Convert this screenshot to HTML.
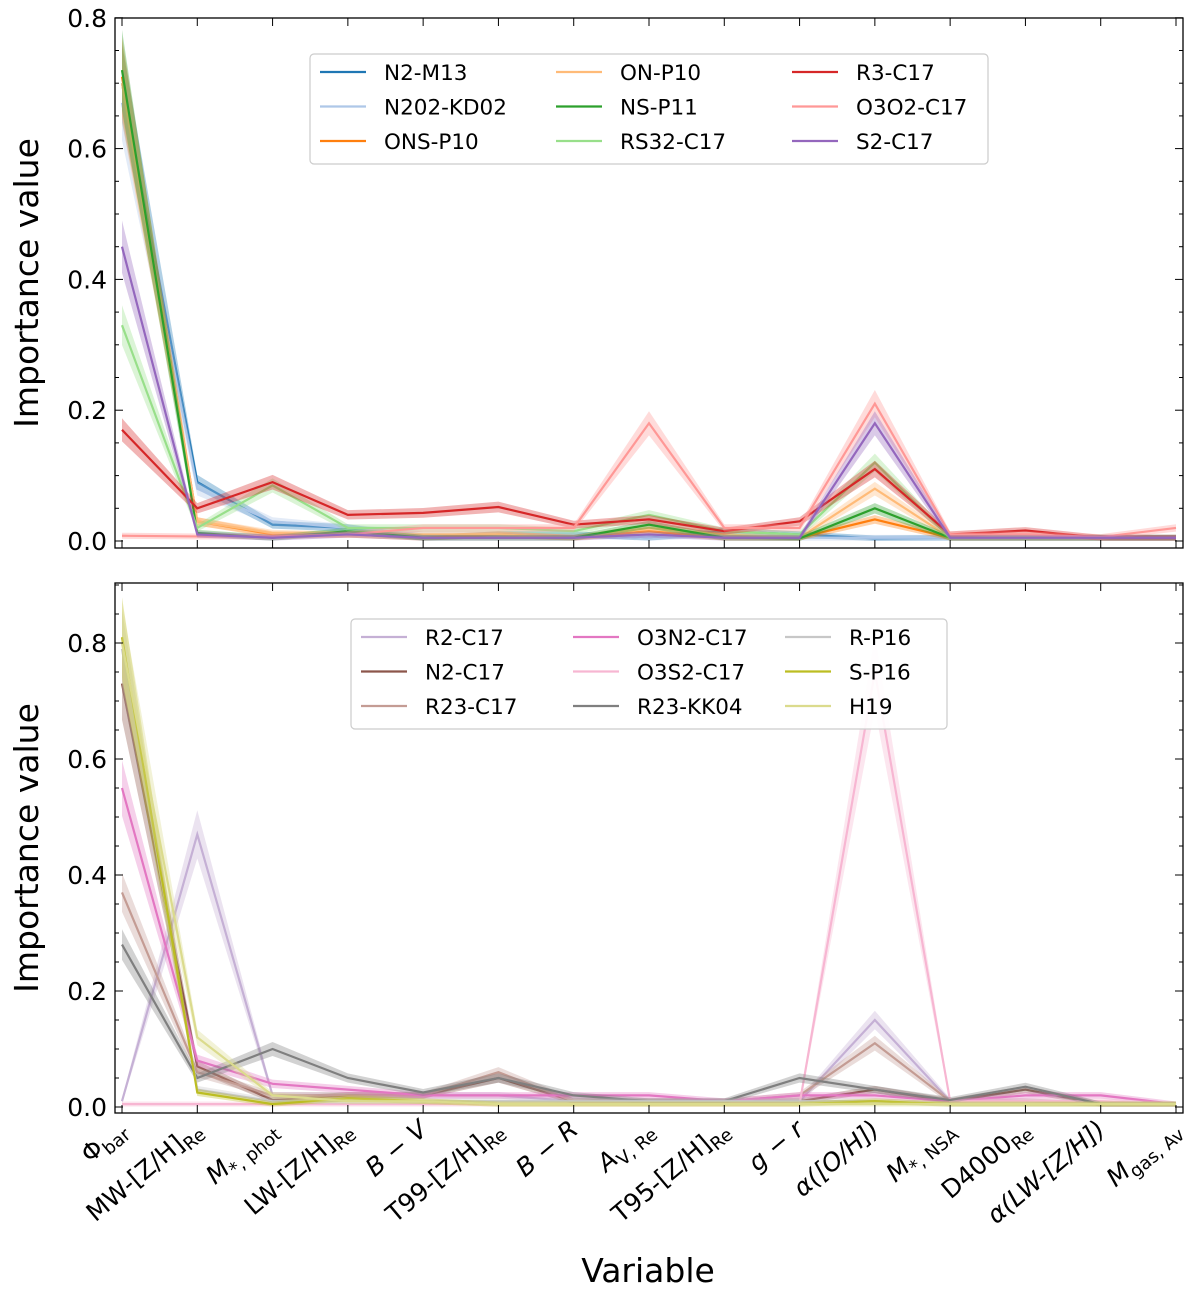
<!DOCTYPE html>
<html><head><meta charset="utf-8"><style>
html,body{margin:0;padding:0;background:#fff;}
svg{display:block;font-family:"DejaVu Sans","Liberation Sans",sans-serif;}
</style></head><body>
<svg id="fig" width="1200" height="1298" viewBox="0 0 1200 1298" xmlns="http://www.w3.org/2000/svg"></svg>
<script>
const variables=["Φbar","MW-[Z/H]Re","M*,phot","LW-[Z/H]Re","B−V","T99-[Z/H]Re","B−R","AV,Re","T95-[Z/H]Re","g−r","α([O/H])","M*,NSA","D4000Re","α(LW-[Z/H])","Mgas,Av"];
const labelsHtml=[["Φ","bar",0],["MW-[Z/H]","Re",0],["M","*, phot",1],["LW-[Z/H]","Re",0],["B − V","",1],["T99-[Z/H]","Re",0],["B − R","",1],["A","V, Re",1],["T95-[Z/H]","Re",0],["g − r","",1],["α([O/H])","",1],["M","*, NSA",1],["D4000","Re",0],["α(LW-[Z/H])","",1],["M","gas, Av",1]];
const topNames=["N2-M13","N202-KD02","ONS-P10","ON-P10","NS-P11","RS32-C17","R3-C17","O3O2-C17","S2-C17"];
const topColors=["#1f77b4","#aec7e8","#ff7f0e","#ffbb78","#2ca02c","#98df8a","#d62728","#ff9896","#9467bd"];
const n2m13=[0.70,0.09,0.025,0.02,0.005,0.01,0.01,0.005,0.015,0.01,0.004,0.005,0.005,0.005,0.005];
const n202kd02=[0.67,0.08,0.03,0.02,0.01,0.01,0.01,0.005,0.01,0.005,0.005,0.005,0.005,0.005,0.005];
const onsp10=[0.71,0.03,0.01,0.01,0.005,0.01,0.005,0.015,0.005,0.005,0.033,0.005,0.005,0.005,0.005];
const onp10=[0.70,0.03,0.012,0.01,0.01,0.01,0.005,0.02,0.01,0.005,0.08,0.005,0.005,0.005,0.005];
const nsp11=[0.72,0.012,0.005,0.015,0.005,0.005,0.005,0.025,0.005,0.004,0.05,0.005,0.005,0.005,0.005];
const rs32c17=[0.33,0.02,0.085,0.02,0.02,0.02,0.015,0.04,0.015,0.01,0.12,0.005,0.005,0.005,0.005];
const r3c17=[0.17,0.05,0.09,0.04,0.043,0.052,0.025,0.033,0.015,0.03,0.11,0.01,0.016,0.005,0.005];
const o3o2c17=[0.008,0.007,0.007,0.01,0.02,0.02,0.02,0.18,0.02,0.02,0.21,0.01,0.01,0.006,0.02];
const s2c17=[0.45,0.01,0.005,0.01,0.005,0.005,0.005,0.01,0.005,0.005,0.18,0.005,0.005,0.005,0.005];
const botNames=["R2-C17","N2-C17","R23-C17","O3N2-C17","O3S2-C17","R23-KK04","R-P16","S-P16","H19"];
const botColors=["#c5b0d5","#8c564b","#c49c94","#e377c2","#f7b6d2","#7f7f7f","#c7c7c7","#bcbd22","#dbdb8d"];
const r2c17=[0.01,0.47,0.02,0.02,0.02,0.02,0.01,0.01,0.01,0.01,0.15,0.01,0.01,0.005,0.005];
const n2c17=[0.73,0.07,0.012,0.02,0.02,0.05,0.01,0.01,0.01,0.01,0.03,0.01,0.03,0.005,0.005];
const r23c17=[0.37,0.06,0.02,0.02,0.02,0.06,0.01,0.01,0.01,0.02,0.11,0.01,0.01,0.005,0.005];
const o3n2c17=[0.55,0.08,0.04,0.03,0.02,0.02,0.02,0.02,0.01,0.02,0.02,0.01,0.02,0.02,0.005];
const o3s2c17=[0.005,0.005,0.005,0.005,0.005,0.005,0.005,0.005,0.005,0.005,0.75,0.01,0.01,0.01,0.005];
const r23kk04=[0.28,0.05,0.10,0.05,0.025,0.05,0.02,0.01,0.01,0.05,0.03,0.012,0.035,0.005,0.005];
const rp16=[0.79,0.03,0.01,0.01,0.01,0.01,0.01,0.01,0.01,0.01,0.01,0.005,0.005,0.005,0.005];
const sp16=[0.81,0.025,0.005,0.015,0.01,0.005,0.005,0.005,0.005,0.005,0.01,0.005,0.005,0.005,0.005];
const h19=[0.80,0.12,0.02,0.01,0.01,0.005,0.005,0.005,0.005,0.005,0.005,0.005,0.005,0.005,0.005];
const topSeries=[n2m13,n202kd02,onsp10,onp10,nsp11,rs32c17,r3c17,o3o2c17,s2c17];
const botSeries=[r2c17,n2c17,r23c17,o3n2c17,o3s2c17,r23kk04,rp16,sp16,h19];
const yTicks=[0,0.2,0.4,0.6,0.8];
const legendOrderTop=[[0,3,6],[1,4,7],[2,5,8]];
const legendOrderBot=[[0,3,6],[1,4,7],[2,5,8]];

const NS="http://www.w3.org/2000/svg";
const svg=document.getElementById('fig');
function mk(tag,attrs,parent){const e=document.createElementNS(NS,tag);for(const k in attrs)e.setAttribute(k,attrs[k]);(parent||svg).appendChild(e);return e;}
const X0=122,X1=1176;
function xScale(i){return X0+(X1-X0)*i/(variables.length-1);}

function panel(p){
  const g=mk('g',{});
  
  
  const yS=v=>p.y0-v*p.k;
  const L=X0-7,R=X1+7;
  p.series.forEach((s,si)=>{
    const col=p.colors[si];
    let up=[],dn=[];
    s.forEach((v,i)=>{const w=v*0.08+0.004;up.push(xScale(i)+','+yS(v+w));dn.unshift(xScale(i)+','+yS(Math.max(0,v-w)));});
    const band=mk('polygon',{points:up.concat(dn).join(' '),fill:col,'fill-opacity':0.35,stroke:'none'},g);
    
    
    const line=mk('polyline',{points:s.map((v,i)=>xScale(i)+','+yS(v)).join(' '),fill:'none',stroke:col,'stroke-width':2.2},g);
    
    
  });
  const fr=mk('rect',{x:L,y:p.top,width:R-L,height:p.bot-p.top,fill:'none',stroke:'#000','stroke-width':1.3},g);
  
  
  for(let v=0;v<=p.max+1e-9;v+=0.05){
    const y=yS(v);const major=Math.abs(v*10-Math.round(v*10))<1e-6&&Math.round(v*10)%2==0;
    const len=major?8:4;
    mk('line',{x1:L,x2:L+len,y1:y,y2:y,stroke:'#000','stroke-width':1},g);
    mk('line',{x1:R,x2:R-len,y1:y,y2:y,stroke:'#000','stroke-width':1},g);
  }
  yTicks.forEach(v=>{
    const t=mk('text',{x:L-8,y:yS(v)+9,'text-anchor':'end','font-size':25},g);
    t.textContent=v.toFixed(1);
    
    
  });
  variables.forEach((_,i)=>{
    const x=xScale(i);
    mk('line',{x1:x,x2:x,y1:p.bot,y2:p.bot-8,stroke:'#000','stroke-width':1},g);
    mk('line',{x1:x,x2:x,y1:p.top,y2:p.top+8,stroke:'#000','stroke-width':1},g);
  });
  const yt=mk('text',{x:0,y:0,'font-size':33,'text-anchor':'middle',transform:`translate(38,${(p.top+p.bot)/2}) rotate(-90)`},g);
  yt.textContent='Importance value';
  
  
  const lg=mk('g',{},g);
  
  
  mk('rect',{x:p.lx,y:p.ly,width:p.lw,height:110,rx:4,fill:'#fff','fill-opacity':0.9,stroke:'#ccc','stroke-width':1.2},lg);
  p.order.forEach((row,ri)=>row.forEach((si,ci)=>{
    const ex=p.lx+10+ci*p.colw,ey=p.ly+18+ri*34.5;
    const e=mk('g',{},lg);
    
    
    mk('line',{x1:ex,x2:ex+46,y1:ey,y2:ey,stroke:p.colors[si],'stroke-width':2.2},e);
    const t=mk('text',{x:ex+64,y:ey+8,'font-size':21.5},e);
    t.textContent=p.names[si];
  }));
}
panel({name:'top-panel',top:18,bot:548,y0:541,k:654,max:0.8,series:topSeries,colors:topColors,names:topNames,ids:['n2-m13','n202-kd02','ons-p10','on-p10','ns-p11','rs32-c17','r3-c17','o3o2-c17','s2-c17'],order:legendOrderTop,lx:310,ly:54,lw:678,colw:236});
panel({name:'bottom-panel',top:583,bot:1113,y0:1107,k:580,max:0.9,series:botSeries,colors:botColors,names:botNames,ids:['r2-c17','n2-c17','r23-c17','o3n2-c17','o3s2-c17','r23-kk04','r-p16','s-p16','h19'],order:legendOrderBot,lx:351,ly:619,lw:596,colw:212});
labelsHtml.forEach((lb,i)=>{
  const t=mk('text',{'font-size':25,'text-anchor':'end',transform:`translate(${xScale(i)+6},${1132}) rotate(-40)`});
  
  
  const a=mk('tspan',{},t);a.textContent=lb[0];
  if(lb[2])a.setAttribute('font-style','italic');
  if(lb[1]){const b=mk('tspan',{'font-size':18,dy:6},t);b.textContent=lb[1];}
});
const xt=mk('text',{x:648,y:1282,'font-size':33,'text-anchor':'middle'});
xt.textContent='Variable';


</script>
</body></html>
